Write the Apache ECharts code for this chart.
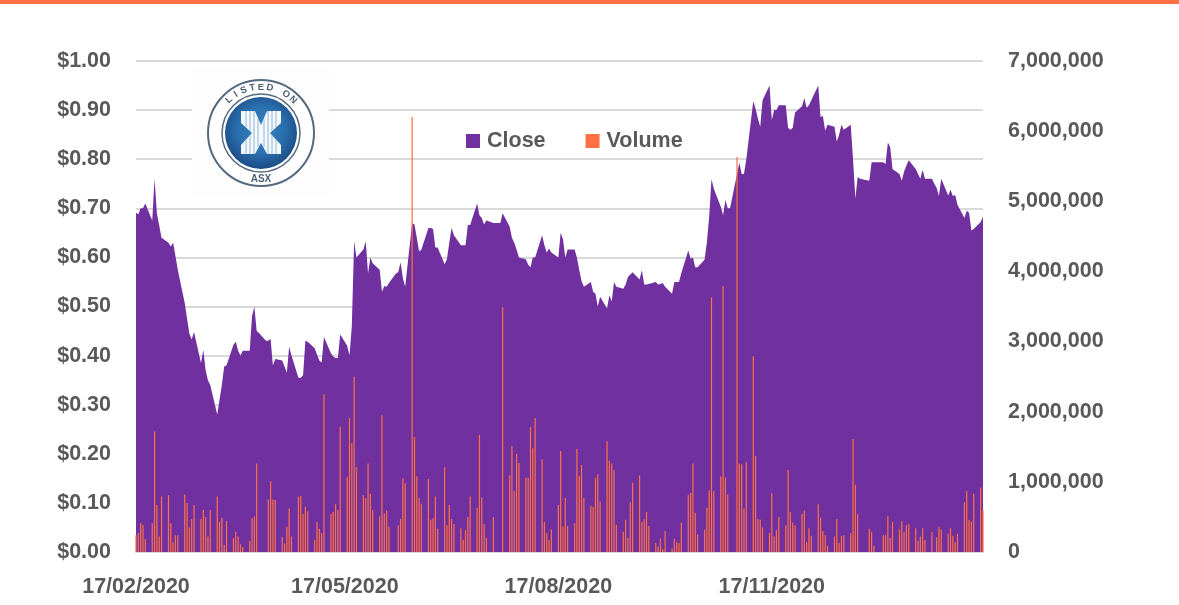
<!DOCTYPE html>
<html>
<head>
<meta charset="utf-8">
<title>Close and Volume</title>
<script src="https://cdn.jsdelivr.net/npm/echarts@6/dist/echarts.min.js"></script>
<style>
  html, body { margin: 0; padding: 0; background: #fff; }
  #chart { width: 1179px; height: 605px; }
</style>
</head>
<body>
<div id="chart"></div>
<script>
// one row per week, Monday to Friday, starting 17/02/2020
const closeValues = [
  .691,.688,.70,.70,.71,
  .675,.76,.69,.665,.64,
  .63,.622,.63,.603,.575,
  .507,.475,.445,.433,.448,
  .385,.412,.37,.35,.34,
  .28,.31,.34,.378,.38,
  .422,.428,.41,.40,.41,
  .41,.48,.50,.45,.446,
  .43,.43,.434,.38,.393,
  .39,.378,.365,.418,.40,
  .355,.355,.36,.43,.428,
  .415,.402,.39,.386,.438,
  .405,.398,.395,.395,.443,
  .42,.40,.46,.633,.60,
  .616,.633,.567,.60,.588,
  .575,.53,.542,.54,.548,
  .567,.57,.59,.558,.54,
  .67,.667,.64,.612,.616,
  .66,.66,.658,.62,.62,
  .586,.596,.63,.66,.645,
  .625,.625,.625,.666,.666,
  .71,.686,.68,.667,.675,
  .67,.67,.67,.67,.69,
  .663,.64,.63,.616,.60,
  .596,.585,.58,.60,.60,
  .645,.625,.61,.618,.61,
  .60,.65,.637,.60,.616,
  .616,.60,.575,.552,.54,
  .55,.53,.526,.50,.52,
  .496,.523,.51,.55,.54,
  .536,.545,.56,.565,.57,
  .555,.574,.545,.545,.546,
  .55,.545,.546,.548,.54,
  .526,.55,.55,.55,.568,
  .614,.597,.60,.58,.58,
  .595,.63,.683,.759,.74,
  .703,.686,.717,.70,.70,
  .77,.793,.77,.77,.80,
  .918,.903,.883,.866,.92,
  .95,.88,.90,.90,.91,
  .91,.864,.86,.864,.895,
  .908,.924,.905,.91,.92,
  .95,.886,.888,.858,.87,
  .866,.836,.85,.87,.86,
  .87,.80,.72,.764,.76,
  .757,.756,.794,.794,.794,
  .794,.79,.834,.825,.78,
  .77,.756,.775,.787,.798,
  .78,.77,.76,.778,.76,
  .76,.75,.742,.725,.76,
  .726,.738,.725,.727,.707,
  .68,.695,.691,.655,.658,
  .672,.683
];

// thousands of shares, same rows
const volumeThousands = [
  240,270,410,385,180,
  410,1720,670,220,790,
  810,410,140,240,240,
  820,700,350,470,670,
  470,600,500,220,600,
  790,430,490,100,440,
  200,290,220,110,70,
  160,480,510,1260,0,
  0,750,1010,750,740,
  210,120,360,620,220,
  790,800,540,640,580,
  170,430,330,270,2250,
  540,570,680,600,1790,
  1070,1910,1550,2500,1210,
  810,770,1260,830,600,
  510,1950,550,590,360,
  0,380,470,1050,980,
  6200,1640,1080,770,680,
  1040,460,480,790,330,
  1210,380,670,470,400,
  340,170,310,500,790,
  630,1670,780,400,200,
  500,0,0,0,3490,
  1090,1510,870,1400,1270,
  1060,1060,1780,1480,1910,
  1320,430,270,170,320,
  670,1440,360,770,370,
  410,1470,1080,1240,770,
  660,640,1060,1110,720,
  1580,1300,1260,1170,390,
  290,460,200,710,990,
  1090,430,470,570,370,
  130,80,190,40,300,
  50,190,140,130,420,
  810,840,1260,560,250,
  320,630,880,3630,870,
  1080,3790,1060,820,0,
  5630,1260,1250,620,1280,
  2790,1370,470,460,350,
  270,840,220,310,500,
  380,1170,570,420,380,
  540,590,140,340,230,
  680,490,300,240,90,
  220,470,130,230,240,
  270,1610,960,540,0,
  0,330,290,90,0,
  240,240,510,200,430,
  320,440,290,380,400,
  340,160,220,340,170,
  290,0,210,360,320,
  260,340,230,140,260,
  710,870,460,430,830,
  920,590
];

const xTickDates = ["2020-02-17", "2020-05-17", "2020-08-17", "2020-11-17"];

const PURPLE = "#7030a0";
const ORANGE = "#ff7043";
const GREY = "#d9d9d9";
const TEXT = "#595959";
const FONT = "'Liberation Sans', Arial, sans-serif";

// weekdays only, the weekends stay empty on the date scale
function tradingDays(n) {
  const days = [];
  let t = Date.UTC(2020, 1, 17);
  while (days.length < n) {
    const wd = new Date(t).getUTCDay();
    if (wd !== 0 && wd !== 6) days.push(t);
    t += 86400000;
  }
  return days;
}

const days = tradingDays(closeValues.length);

function pad(n) { return n < 10 ? "0" + n : "" + n; }
function dateLabel(v) {
  const d = new Date(v);
  return pad(d.getUTCDate()) + "/" + pad(d.getUTCMonth() + 1) + "/" + d.getUTCFullYear();
}

// ASX badge, drawn in page pixels
function logoGraphics() {
  const cx = 261, cy = 133;
  const ring = "#55697f";
  const items = [
    { type: "rect", shape: { x: 192, y: 68, width: 137, height: 127 }, style: { fill: "#fdfdfe" } },
    { type: "circle", shape: { cx, cy, r: 53 }, style: { fill: "#fff", stroke: ring, lineWidth: 2 } },
    { type: "circle", shape: { cx, cy, r: 39 }, style: { fill: "#fff", stroke: ring, lineWidth: 1.5 } },
    { type: "circle", shape: { cx, cy, r: 36 }, style: {
        fill: new echarts.graphic.RadialGradient(0.5, 0.45, 0.55, [
          { offset: 0, color: "#3684c4" }, { offset: 0.6, color: "#2a6fae" }, { offset: 1, color: "#1c4c86" }
        ]) } },
    { type: "polygon", shape: { points: [[241,111],[255,111],[261,125],[267,111],[281,111],[281,123],[270,133],[281,145],[281,154],[267,154],[261,143],[255,154],[241,154],[241,145],[252,133],[241,123]] },
      style: { fill: "#f6f9fc" } }
  ];
  // stripes stay inside the arms of the X, mirrored about the centre
  [[246,111,127],[246,139,154],[250,111,131],[250,135,154],[254,111,154],[258,119,147]].forEach(s => {
    [s[0], 2 * cx - s[0]].forEach(x => {
      items.push({ type: "line", shape: { x1: x, y1: s[1], x2: x, y2: s[2] }, style: { stroke: "#8db6da", lineWidth: 1 } });
    });
  });
  const word = "LISTED ON";
  const step = 11;
  word.split("").forEach((ch, i) => {
    const deg = (i - (word.length - 1) / 2) * step;
    const a = deg * Math.PI / 180;
    items.push({
      type: "text",
      x: cx + 46 * Math.sin(a), y: cy - 46 * Math.cos(a),
      rotation: -a,
      style: { text: ch, font: "bold 9.5px " + FONT, fill: "#4d6277", align: "center", verticalAlign: "middle" }
    });
  });
  items.push({ type: "text", x: cx, y: cy + 46,
    style: { text: "ASX", font: "bold 10px " + FONT, fill: "#4d6277", align: "center", verticalAlign: "middle" } });
  return items.map(it => Object.assign({ z: 10 }, it));
}

const chart = echarts.init(document.getElementById("chart"), null, { renderer: "canvas" });

chart.setOption({
  animation: false,
  backgroundColor: "#fff",
  textStyle: { fontFamily: FONT },
  grid: { left: 136, right: 196, top: 61, bottom: 53 },
  legend: {
    left: 461, top: 125, itemGap: 40, itemWidth: 14, itemHeight: 14, icon: "rect",
    data: ["Close", "Volume"],
    textStyle: { color: TEXT, fontSize: 21.5, fontWeight: "bold", fontFamily: FONT, padding: [0, 0, 0, 2] }
  },
  xAxis: {
    type: "value",
    min: days[0],
    max: days[days.length - 1],
    axisLine: { show: true, onZero: false, lineStyle: { color: GREY, width: 2 } },
    axisTick: { show: false },
    splitLine: { show: false },
    axisLabel: {
      customValues: xTickDates.map(s => Date.parse(s + "T00:00:00Z")),
      formatter: v => dateLabel(v),
      margin: 24, color: TEXT, fontSize: 21.5, fontWeight: "bold", fontFamily: FONT,
      hideOverlap: false
    }
  },
  yAxis: [
    {
      type: "value", min: 0, max: 1, interval: 0.1,
      axisLine: { show: false }, axisTick: { show: false },
      splitLine: { show: true, lineStyle: { color: GREY, width: 2 } },
      axisLabel: { formatter: v => "$" + v.toFixed(2), margin: 25, padding: [3, 0, 0, 0], color: TEXT, fontSize: 21.5, fontWeight: "bold", fontFamily: FONT }
    },
    {
      type: "value", min: 0, max: 7000000, interval: 1000000, position: "right",
      axisLine: { show: false }, axisTick: { show: false }, splitLine: { show: false },
      axisLabel: { formatter: v => v.toLocaleString("en-US"), margin: 25, padding: [3, 0, 0, 0], color: TEXT, fontSize: 21.5, fontWeight: "bold", fontFamily: FONT }
    }
  ],
  series: [
    {
      name: "Close", type: "line", yAxisIndex: 0, showSymbol: false, symbol: "none",
      data: days.map((d, i) => [d, closeValues[i]]),
      itemStyle: { color: PURPLE },
      lineStyle: { width: 0, color: PURPLE },
      areaStyle: { color: PURPLE, opacity: 1 },
      z: 2
    },
    {
      name: "Volume", type: "bar", yAxisIndex: 1, barWidth: 1.2,
      data: days.map((d, i) => [d, volumeThousands[i] * 1000]),
      itemStyle: { color: ORANGE },
      z: 3
    }
  ],
  graphic: [
    { type: "rect", shape: { x: 0, y: 0, width: 1179, height: 4 }, style: { fill: ORANGE }, z: 10 }
  ].concat(logoGraphics())
});

window.addEventListener("resize", () => chart.resize());
</script>
</body>
</html>
